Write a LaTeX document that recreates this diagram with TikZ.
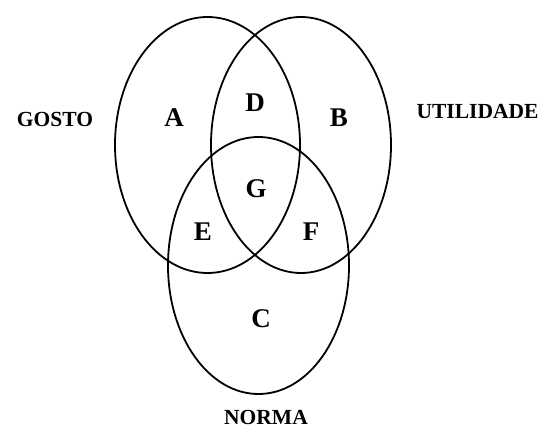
\documentclass[tikz,border=0pt]{standalone}
\usepackage{fontspec}
\setmainfont{Liberation Serif}
\usetikzlibrary{shapes.geometric}
\tikzset{
  venn/.style={draw=black, ellipse, line width=1.8pt, inner sep=0pt, fill=none},
  region/.style={font=\fontsize{27}{27}\selectfont\bfseries, inner sep=0pt},
  setname/.style={font=\fontsize{21.5}{22}\selectfont\bfseries, inner sep=0pt},
}
\begin{document}
\begin{tikzpicture}[x=1pt,y=-1pt]
\useasboundingbox (0,0) rectangle (544,430);
\node[venn, minimum width=185pt, minimum height=256pt] (left) at (207.5,145) {};
\node[venn, minimum width=180pt, minimum height=256pt] (right) at (301,145) {};
\node[venn, minimum width=181pt, minimum height=257pt] (bottom) at (258.5,265.5) {};
\node[region] (A) at (174,118) {A};
\node[region] (D) at (255,103) {D};
\node[region] (B) at (339,118) {B};
\node[region] (G) at (256,189) {G};
\node[region] (E) at (203,232) {E};
\node[region] (F) at (311,232) {F};
\node[region] (C) at (261,319) {C};
\node[setname] (gosto) at (55,119) {GOSTO};
\node[setname] (utilidade) at (477.5,112) {UTILIDADE};
\node[setname] (norma) at (266,417) {NORMA};
\end{tikzpicture}
\end{document}
